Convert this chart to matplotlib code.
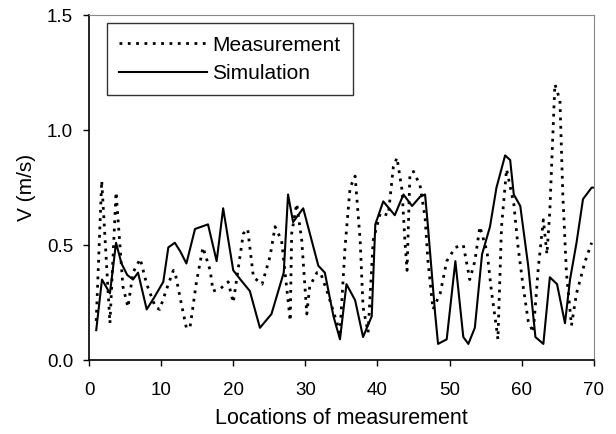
import matplotlib
matplotlib.use("Agg")
import matplotlib.pyplot as plt

plt.rcParams['font.family'] = ['Liberation Sans', 'DejaVu Sans']

# measured velocity (dotted)
meas_x = [1.0, 1.76, 2.9, 3.75, 4.7, 5.4, 6.1, 7.1, 8.0, 9.2, 9.8, 11.0, 11.7, 12.0,
          12.9, 13.5, 14.0, 14.9, 15.8, 16.8, 17.2, 18.2, 19.3, 20.0, 21.4, 22.0,
          22.8, 24.0, 25.1, 25.8, 26.7, 27.6, 27.9, 28.1, 28.8, 29.5, 30.2, 30.6,
          31.6, 32.1, 33.1, 34.3, 34.8, 35.5, 36.2, 36.9, 37.6, 38.0, 38.7, 39.4,
          40.4, 41.5, 42.2, 42.7, 43.4, 43.8, 44.1, 44.5, 45.0, 45.9, 46.6, 47.0,
          47.7, 48.7, 49.6, 50.8, 51.9, 52.8, 53.5, 54.2, 55.2, 55.8, 56.5, 56.7,
          57.2, 57.9, 58.9, 59.5, 60.2, 60.9, 61.6, 62.3, 63.0, 63.5, 63.9, 64.6,
          65.3, 65.7, 66.2, 66.9, 67.6, 68.8, 69.7]
meas_v = [0.17, 0.78, 0.16, 0.73, 0.32, 0.23, 0.38, 0.44, 0.33, 0.23, 0.22, 0.33, 0.39, 0.37,
          0.23, 0.14, 0.14, 0.34, 0.49, 0.39, 0.30, 0.31, 0.34, 0.25, 0.55, 0.57,
          0.36, 0.33, 0.45, 0.58, 0.52, 0.26, 0.17, 0.55, 0.68, 0.52, 0.20, 0.32,
          0.38, 0.38, 0.29, 0.17, 0.12, 0.49, 0.75, 0.80, 0.52, 0.23, 0.12, 0.52,
          0.64, 0.63, 0.84, 0.88, 0.74, 0.52, 0.39, 0.81, 0.82, 0.76, 0.62, 0.43,
          0.22, 0.29, 0.43, 0.49, 0.50, 0.35, 0.43, 0.58, 0.47, 0.30, 0.14, 0.09,
          0.58, 0.83, 0.68, 0.49, 0.32, 0.17, 0.12, 0.40, 0.61, 0.46, 0.65, 1.20,
          1.13, 0.72, 0.38, 0.15, 0.29, 0.43, 0.51]

# simulated velocity (solid)
sim_x = [1.0, 1.8, 2.9, 3.75, 4.5, 5.3, 6.1, 6.8, 8.0, 9.0, 10.3, 11.0, 11.9, 12.7,
         13.5, 14.7, 16.5, 17.7, 18.6, 20.0, 21.0, 22.3, 23.7, 25.3, 27.0, 27.6,
         28.3, 29.7, 31.8, 32.7, 33.9, 34.8, 35.7, 36.9, 38.0, 39.2, 39.7, 40.8,
         42.4, 43.6, 44.8, 45.9, 46.6, 47.0, 48.0, 48.4, 49.6, 50.8, 51.9, 52.6,
         53.5, 54.5, 55.6, 56.5, 57.7, 58.4, 58.9, 59.8, 60.9, 61.9, 63.0, 63.9,
         64.9, 66.0, 66.7, 67.6, 68.5, 69.7, 70.0]
sim_v = [0.13, 0.35, 0.29, 0.51, 0.42, 0.37, 0.35, 0.38, 0.22, 0.27, 0.34, 0.49, 0.51, 0.47,
         0.42, 0.57, 0.59, 0.43, 0.66, 0.39, 0.35, 0.30, 0.14, 0.20, 0.38, 0.72,
         0.60, 0.66, 0.41, 0.38, 0.19, 0.09, 0.33, 0.26, 0.10, 0.19, 0.59, 0.69,
         0.63, 0.72, 0.67, 0.71, 0.72, 0.58, 0.20, 0.07, 0.09, 0.43, 0.10, 0.07,
         0.14, 0.46, 0.58, 0.75, 0.89, 0.87, 0.72, 0.67, 0.41, 0.10, 0.07, 0.36,
         0.33, 0.16, 0.35, 0.51, 0.70, 0.75, 0.75]

xticks = [0, 10, 20, 30, 40, 50, 60, 70]
yticks = [0.0, 0.5, 1.0, 1.5]
ytick_labels = ['0.0', '0.5', '1.0', '1.5']

fig = plt.figure(figsize=(6.16, 4.34), dpi=100)
ax = fig.add_axes([0.1445, 0.1705, 0.8195, 0.7945])

ax.plot(meas_x, meas_v, color='black', lw=2.0, linestyle=(0, (1, 2)), label='Measurement')
ax.plot(sim_x, sim_v, color='black', lw=1.5, label='Simulation')

ax.set_xlim(0, 70)
ax.set_ylim(0, 1.5)
ax.set_xticks(xticks)
ax.set_yticks(yticks)
ax.set_yticklabels(ytick_labels)
ax.tick_params(direction='out', length=4.5, width=1, labelsize=13.5)
ax.tick_params(axis='x', pad=11)
ax.tick_params(axis='y', pad=7)

for s in ['top', 'right']:
    ax.spines[s].set_linestyle((0, (1, 1)))
    ax.spines[s].set_color('#888888')
    ax.spines[s].set_linewidth(0.8)
for s in ['left', 'bottom']:
    ax.spines[s].set_linewidth(1.2)

ax.set_xlabel('Locations of measurement', fontsize=15.5, labelpad=7)
ax.set_ylabel('V (m/s)', fontsize=15, labelpad=8)

leg = ax.legend(loc='upper left', bbox_to_anchor=(0.035, 0.977), borderaxespad=0,
                fontsize=15, frameon=True, fancybox=False, handlelength=4.2,
                handletextpad=0.25, borderpad=0.6, labelspacing=0.45)
leg.get_frame().set_edgecolor('black')
leg.get_frame().set_linewidth(1.0)

fig.savefig('out.png', dpi=100)
